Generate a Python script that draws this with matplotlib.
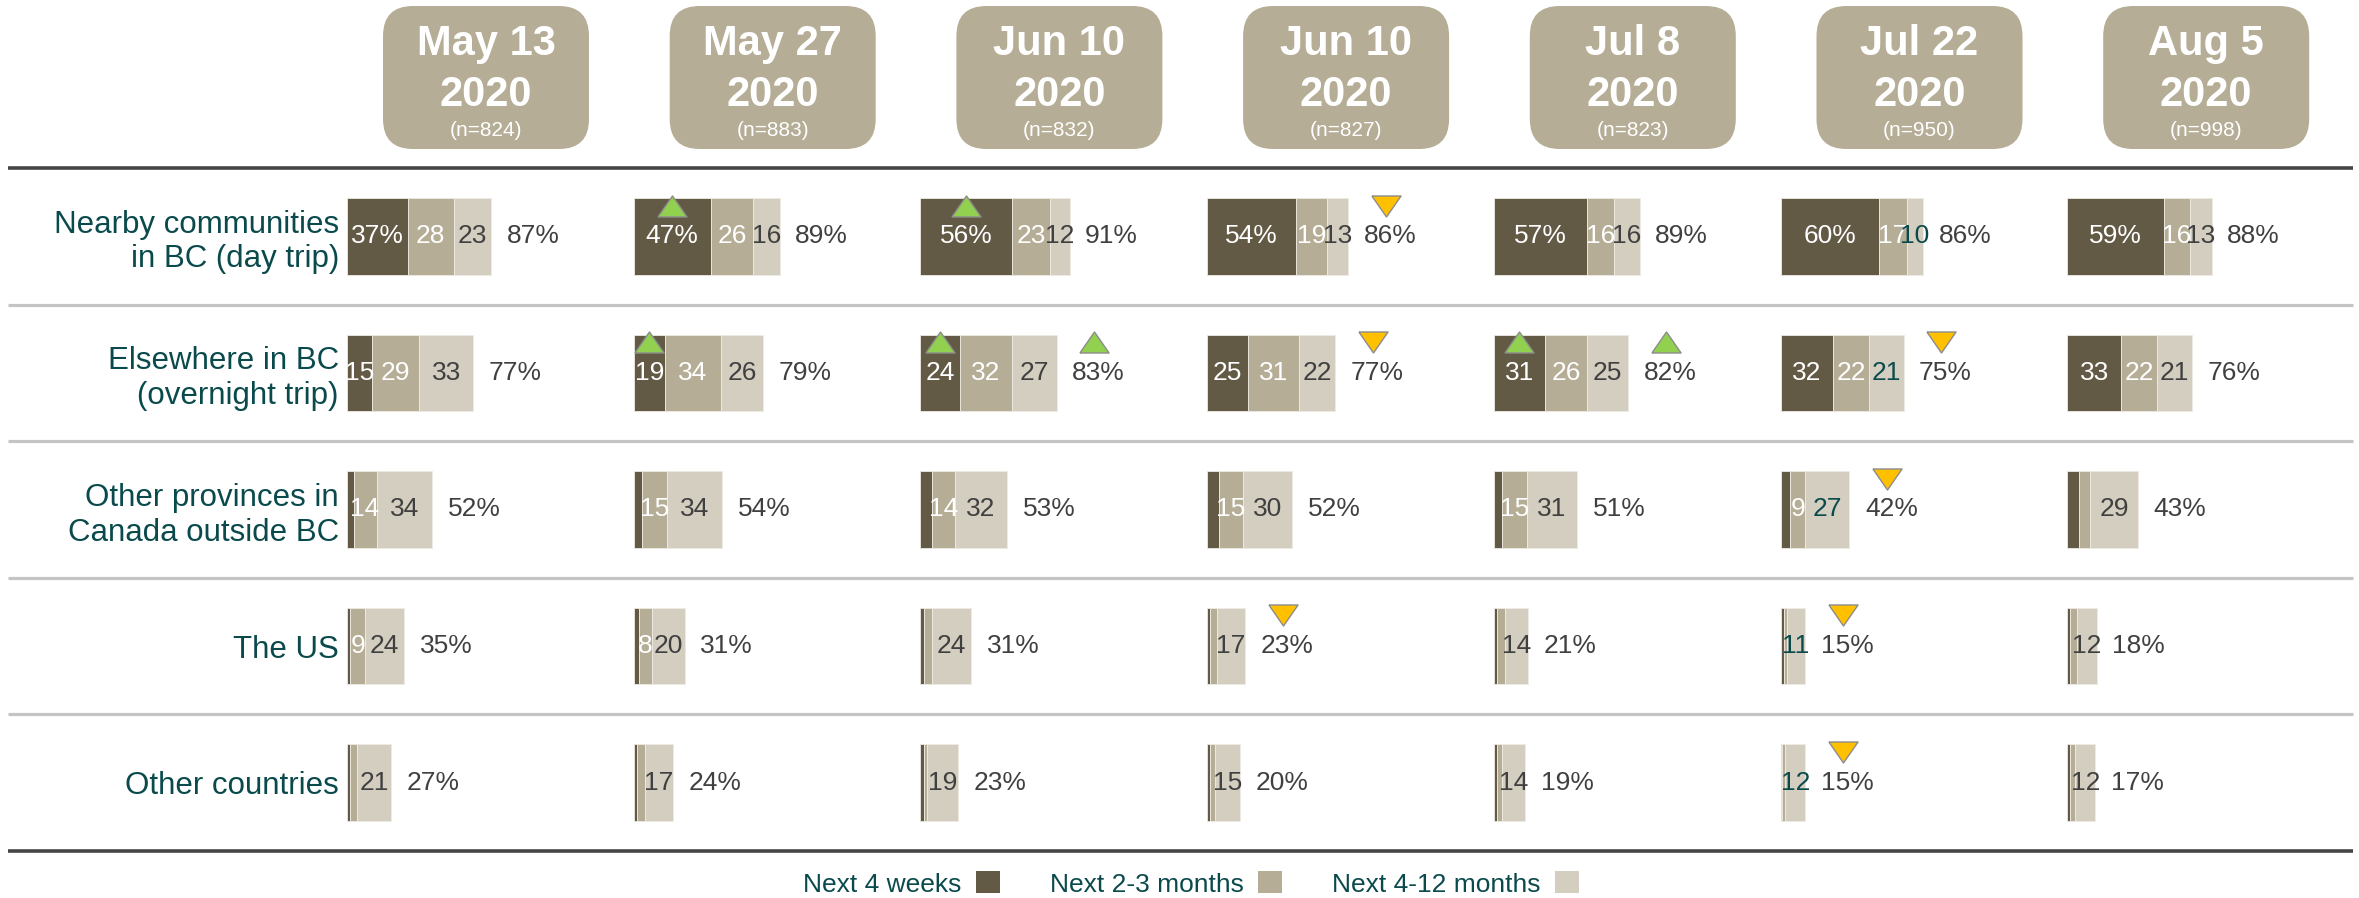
import matplotlib.pyplot as plt
from matplotlib.patches import FancyBboxPatch, Patch
from matplotlib.path import Path

rows = [
    "Nearby communities\nin BC (day trip)",
    "Elsewhere in BC\n(overnight trip)",
    "Other provinces in\nCanada outside BC",
    "The US",
    "Other countries",
]
dates = ["May 13", "May 27", "Jun 10", "Jun 10", "Jul 8", "Jul 22", "Aug 5"]
year = "2020"
sample_n = [824, 883, 832, 827, 823, 950, 998]
series = ["Next 4 weeks", "Next 2-3 months", "Next 4-12 months"]

# one list per row, one value per wave
next_4_weeks = [
    [37, 47, 56, 54, 57, 60, 59],
    [15, 19, 24, 25, 31, 32, 33],
    [4, 5, 7, 7, 5, 6, 7],
    [2, 3, 2, 2, 2, 2, 2],
    [2, 2, 2, 2, 2, 1, 2],
]
next_2_3_months = [
    [28, 26, 23, 19, 16, 17, 16],
    [29, 34, 32, 31, 26, 22, 22],
    [14, 15, 14, 15, 15, 9, 7],
    [9, 8, 5, 4, 5, 2, 4],
    [4, 5, 2, 3, 3, 2, 3],
]
next_4_12_months = [
    [23, 16, 12, 13, 16, 10, 13],
    [33, 26, 27, 22, 25, 21, 21],
    [34, 34, 32, 30, 31, 27, 29],
    [24, 20, 24, 17, 14, 11, 12],
    [21, 17, 19, 15, 14, 12, 12],
]
totals = [
    [87, 89, 91, 86, 89, 86, 88],
    [77, 79, 83, 77, 82, 75, 76],
    [52, 54, 53, 52, 51, 42, 43],
    [35, 31, 31, 23, 21, 15, 18],
    [27, 24, 23, 20, 19, 15, 17],
]
# significant changes vs previous wave: (row, wave, direction, anchor)
changes = [
    (0, 1, "up", "seg"), (0, 2, "up", "seg"), (0, 3, "down", "total"),
    (1, 1, "up", "seg"), (1, 2, "up", "seg"), (1, 2, "up", "total"),
    (1, 3, "down", "total"), (1, 4, "up", "seg"), (1, 4, "up", "total"),
    (1, 5, "down", "total"),
    (2, 5, "down", "total"),
    (3, 3, "down", "total"), (3, 5, "down", "total"),
    (4, 5, "down", "total"),
]

colors = ["#635a45", "#b5ad96", "#d3cec0"]
teal = "#0b4a4c"
grey_text = "#404040"
light_text = [grey_text] * 7
light_text[5] = teal
up_col, down_col = "#92d050", "#ffc000"

W, H = 2359, 898
TOP, BOTTOM = 168, 851
COL0, COL_STEP = 347, 286.7
PX_PER_PCT = 1.64
BAR_H = 0.56
MIN_LABEL = 8

plt.rcParams["font.family"] = ["Liberation Sans", "DejaVu Sans"]
fig = plt.figure(figsize=(W / 100, H / 100), dpi=100)


def rect(x0, y0, w, h):
    return [x0 / W, 1 - (y0 + h) / H, w / W, h / H]


canvas = fig.add_axes([0, 0, 1, 1], zorder=0)
canvas.set_xlim(0, W)
canvas.set_ylim(H, 0)
canvas.axis("off")

row_h = (BOTTOM - TOP) / len(rows)
for k in range(1, len(rows)):
    canvas.hlines(TOP + k * row_h, 8, 2353, color="#c4c4c4", lw=2.3)
canvas.hlines([TOP, BOTTOM], 8, 2353, color="#454545", lw=2.6)

tri_up = Path([(-1, -0.72), (1, -0.72), (0, 0.72), (-1, -0.72)])
tri_down = Path([(-1, 0.72), (1, 0.72), (0, -0.72), (-1, 0.72)])

axes = []
for i in range(len(dates)):
    x0 = COL0 + i * COL_STEP
    ax = fig.add_axes(rect(x0, TOP, 280, BOTTOM - TOP), zorder=2)
    ax.patch.set_alpha(0)
    ax.set_xlim(0, 280 / PX_PER_PCT)
    ax.set_ylim(len(rows) - 0.5, -0.5)
    for s in ax.spines.values():
        s.set_visible(False)
    ax.set_xticks([])
    ax.set_yticks([])
    axes.append(ax)

    # header box
    canvas.add_patch(FancyBboxPatch((x0 + 36, 6), 206, 143,
                                    boxstyle="round,pad=0,rounding_size=30",
                                    fc="#b5ad96", ec="none"))
    cx = x0 + 36 + 103
    canvas.text(cx, 55, dates[i], ha="center", va="baseline", color="white",
                fontsize=30, fontweight="bold")
    canvas.text(cx, 106, year, ha="center", va="baseline", color="white",
                fontsize=30, fontweight="bold")
    canvas.text(cx, 136, f"(n={sample_n[i]})", ha="center", va="baseline",
                color="white", fontsize=15)

    for r in range(len(rows)):
        vals = [next_4_weeks[r][i], next_2_3_months[r][i], next_4_12_months[r][i]]
        left = 0
        for s, v in enumerate(vals):
            ax.barh(r, v, left=left, height=BAR_H, color=colors[s],
                    edgecolor="#eeebe4", linewidth=0.6)
            if v >= MIN_LABEL:
                txt = f"{v}%" if (r == 0 and s == 0) else str(v)
                tc = "white" if s < 2 else light_text[i]
                ax.text(left + v / 2, r, txt, ha="center", va="center",
                        color=tc, fontsize=19)
            left += v
        ax.text(left + 9.5, r, f"{totals[r][i]}%", ha="left", va="center",
                color=grey_text, fontsize=19)

for r, i, direction, anchor in changes:
    end = next_4_weeks[r][i] + next_2_3_months[r][i] + next_4_12_months[r][i]
    x = next_4_weeks[r][i] / 2 if anchor == "seg" else end + 23
    y = r - BAR_H / 2 + 0.055
    axes[i].plot(x, y, marker=tri_up if direction == "up" else tri_down,
                 markersize=21, color=up_col if direction == "up" else down_col,
                 markeredgecolor="#8c8c8c", markeredgewidth=1, zorder=5)

axes[0].set_yticks(range(len(rows)), rows, fontsize=22.5, color=teal)
axes[0].tick_params(axis="y", length=0, pad=5.8)

handles = [Patch(facecolor=c, edgecolor="none") for c in colors]
fig.legend(handles, series, loc="center", bbox_to_anchor=(1191 / W, 1 - 884 / H),
           ncol=3, frameon=False, markerfirst=False, fontsize=19, labelcolor=teal,
           handlelength=0.9, handleheight=0.9, handletextpad=0.55,
           columnspacing=1.9)

fig.savefig("out.png", dpi=100)
